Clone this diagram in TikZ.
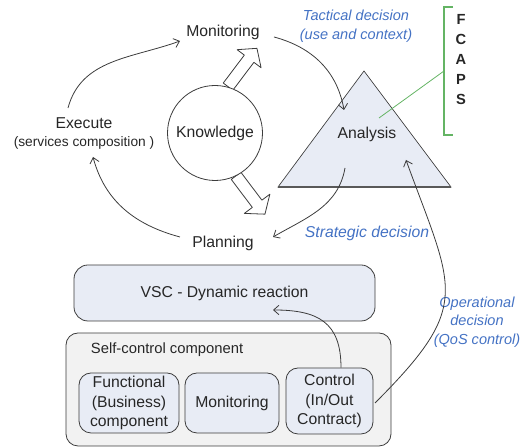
\documentclass[tikz,border=0pt]{standalone}
\usepackage{fontspec}
\setmainfont{Liberation Sans}
\usetikzlibrary{arrows.meta}

\definecolor{decblue}{RGB}{68,114,196}
\definecolor{fcapsgreen}{RGB}{100,180,100}
\definecolor{boxfill}{RGB}{232,236,245}
\definecolor{outerfill}{RGB}{242,242,242}
\definecolor{linegray}{RGB}{60,60,60}

\begin{document}
\begin{tikzpicture}[x=0.75pt,y=0.75pt]
    \tikzstyle{every node}=[font=\fontsize{11.8}{14.6}\selectfont, text=black!85]
    \tikzstyle{decision}=[font=\fontsize{10.9}{14}\selectfont\itshape, text=decblue, align=center]
    \tikzstyle{loop}=[draw=linegray, line width=0.6pt, -{Straight Barb[length=4pt,width=7pt]}]
    \tikzstyle{compbox}=[draw=linegray, fill=boxfill, rounded corners=9pt, align=center, inner sep=0pt, line width=0.6pt]
    \tikzstyle{bigarrow}=[draw=linegray, fill=white, line width=0.6pt, line join=round]
    \useasboundingbox (0,0) rectangle (522,448);

    % analysis triangle and FCAPS bracket
    \filldraw[fill=boxfill, draw=linegray, line width=0.5pt] (364,377) -- (451,261) -- (278,261) -- cycle;
    \draw[gray!70!black, line width=1.2pt] (278,261) -- (451,261);
    \node (ana) at (367,314) {Analysis};
    \node[font=\fontsize{11}{15}\selectfont\bfseries, align=center] (fcaps) at (461,388) {F\\C\\A\\P\\S};
    \draw[fcapsgreen, line width=0.8pt] (453,441) -- (444,441) -- (444,313) -- (453,313);
    \coordinate (brk) at (444,377);
    \draw[fcapsgreen, line width=0.6pt] (brk) -- ([shift={(12,16)}]ana.center);

    % knowledge and the two hollow arrows
    \draw[bigarrow, shift={(242.5,380.5)}, rotate=53] (-24,-6) -- (11,-6) -- (11,-15) -- (24,0) -- (11,15) -- (11,6) -- (-24,6) -- cycle;
    \draw[bigarrow, shift={(250.5,253)}, rotate=-53] (-24,-6) -- (11,-6) -- (11,-16) -- (24,0) -- (11,16) -- (11,6) -- (-24,6) -- cycle;
    \node[circle, draw=linegray, fill=white, line width=0.6pt, minimum size=71.25pt, inner sep=0pt] (know) at (215,315) {Knowledge};

    % loop labels
    \node (mon) at (223,416) {Monitoring};
    \node[align=center, font=\fontsize{11.8}{13.5}\selectfont] (exec) at (84,314) {Execute\\{\fontsize{10.3}{13.5}\selectfont (services composition )}};
    \node (plan) at (223,205) {Planning};
    \node[decision] (tact) at (356,422) {Tactical decision\\(use and context)};
    \node[decision, font=\fontsize{11.8}{14}\selectfont\itshape] (strat) at (367,215) {Strategic decision};
    \node[decision, inner sep=1pt] (oper) at (477,126) {Operational\\decision\\(QoS control)};

    % components
    \node[compbox, rounded corners=10.5pt, minimum width=225.75pt, minimum height=42pt] (vsc) at (224.5,155) {VSC - Dynamic reaction};
    \node[compbox, fill=outerfill, minimum width=243.75pt, minimum height=84.75pt] (self) at (228.5,58.5) {};
    \node[anchor=west, inner sep=0pt, font=\fontsize{11.1}{13}\selectfont] (selflbl) at (90.7,98) {Self-control component};
    \node[compbox, minimum width=75pt, minimum height=45pt] (func) at (129,45) {Functional\\(Business)\\component};
    \node[compbox, minimum width=70.5pt, minimum height=45pt] (kmon) at (232,45) {Monitoring};
    \node[compbox, minimum width=65.25pt, minimum height=49.5pt] (ctrl) at (329.5,47) {Control\\(In/Out\\Contract)};

    % arrows
    \draw[loop] ([shift={(-16,26)}]exec.center) to[out=75,in=200] ([shift={(-43,-9)}]mon.center);
    \draw[loop] ([shift={(51,-5)}]mon.center) to[out=-15,in=100] ([shift={(-23,24)}]ana.center);
    \draw[loop] ([shift={(-22,-34)}]ana.center) to[out=-100,in=30] ([shift={(50,6)}]plan.center);
    \draw[loop] ([shift={(-43,6)}]plan.center) to[out=165,in=-75] ([shift={(9,-23)}]exec.center);
    \draw[loop] ([shift={(45.5,-2)}]ctrl.center) to[out=45,in=-70,looseness=1.45] ([shift={(39,-26)}]ana.center);
    \draw[loop] ([shift={(11.5,0)}]ctrl.north) to[out=90,in=0,looseness=1.3] ([shift={(48.5,-17)}]vsc.center);

\end{tikzpicture}
\end{document}
